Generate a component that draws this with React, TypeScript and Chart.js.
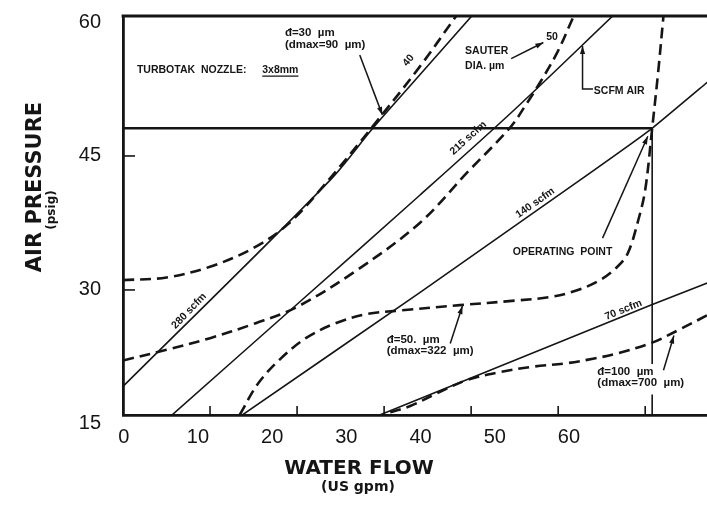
import React, { useEffect, useRef } from "react";
import { Chart, registerables } from "chart.js";

Chart.register(...registerables);

const INK = "#151515";

// ---- axis ticks ----
const xTickValues = [0, 10, 20, 30, 40, 50, 60];
const yTickValues = [15, 30, 45, 60];
const xInnerTicks = [10, 20, 30, 40, 50, 60];
const yInnerTicks = [30, 45];

// ---- constant air-flow lines (solid) ----
const scfm280X = [0, 23.8, 28.7, 33.3, 40.1];
const scfm280Y = [19.2, 42.3, 48.1, 53.2, 60.7];
const scfm215X = [5.4, 20, 34.1, 45, 56.3];
const scfm215Y = [15.8, 28.4, 40.6, 50.2, 60.7];
const scfm140X = [13.4, 34.1, 52.5, 60.8, 67.2];
const scfm140Y = [15.8, 29.7, 42.3, 48.1, 53.3];
const scfm70X = [29.5, 60.6, 67.2];
const scfm70Y = [16.0, 28.3, 30.8];

// ---- operating point (48 psig, ~60.8 gpm) ----
const opLineX = [0, 60.8];
const opLineY = [48.1, 48.1];
const opDropX = [60.8, 60.8, 60.8, 60.8, 60.8];
const opDropY = [48.1, 21.7, null, 18.3, 15.9];

// ---- droplet-size curves (dashed) ----
const sauter40X = [0, 5, 10, 15, 19, 23, 28.6, 34.1, 38.3];
const sauter40Y = [31.1, 31.4, 32.6, 34.7, 37.4, 41.6, 48.2, 55.0, 60.7];
const sauter50X = [0, 5, 10, 15, 20, 27, 34.1, 39.5, 44.5, 46.4, 47.9, 49.9, 51.8];
const sauter50Y = [22.1, 23.3, 24.6, 26.2, 28.1, 32.3, 37.5, 43.1, 48.2, 50.9, 53.2, 56.6, 60.7];
const mean50X = [13.4, 15.5, 18, 21, 24.5, 28, 31.8, 38.7, 45, 49, 52, 54.8, 56.8, 58, 59.2, 60, 60.8, 61.5, 62.1];
const mean50Y = [16, 19.5, 22.2, 24.6, 26.3, 27.3, 27.7, 28.3, 28.8, 29.2, 29.9, 31.1, 32.6, 34.1, 37.8, 41.2, 48.1, 54.5, 60.7];
const mean100X = [30.7, 33, 36, 39.5, 43.3, 47, 51, 54, 56.8, 60.8, 64, 67.2];
const mean100Y = [16.3, 17, 18.4, 19.9, 20.8, 21.4, 21.8, 22.3, 22.9, 24.1, 25.6, 27.2];

// ---- annotations (data coordinates) ----
const noteTexts = [
  "TURBOTAK  NOZZLE:", "3x8mm", "đ=30  µm", "(dmax=90  µm)", "40", "SAUTER", "DIA. µm", "50",
  "SCFM AIR", "215 scfm", "140 scfm", "280 scfm", "70 scfm", "OPERATING  POINT",
  "đ=50.  µm", "(dmax=322  µm)", "đ=100  µm", "(dmax=700  µm)",
];
const noteX = [1.6, 16.0, 18.6, 18.6, 32.8, 39.3, 39.3, 49.3, 54.1, 39.66, 47.36, 7.6, 57.5, 50.5, 30.3, 30.3, 54.5, 54.5];
const noteY = [54.6, 54.6, 58.8, 57.4, 55.7, 56.75, 55.1, 58.3, 52.3, 47.0, 39.74, 27.64, 27.76, 34.25, 24.4, 23.17, 20.87, 19.6];
const noteRot = [0, 0, 0, 0, -50, 0, 0, 0, 0, -42, -35, -46, -22, 0, 0, 0, 0, 0];
const noteAlign = ["left", "left", "left", "left", "center", "left", "left", "center", "left", "center", "center", "center", "center", "center", "left", "left", "left", "left"];
const noteSize = [10.5, 10.5, 11.5, 11.5, 10.5, 10.5, 10.5, 10.5, 10.5, 10.5, 10.5, 10.5, 10.5, 10.5, 11.5, 11.5, 11.5, 11.5];

const arrowPaths: number[][][] = [
  [[27.2, 56.3], [29.8, 49.6]],
  [[44.6, 55.9], [48.3, 57.7]],
  [[54.0, 52.5], [52.8, 52.5], [52.8, 57.3]],
  [[55.1, 35.8], [60.3, 47.2]],
  [[37.6, 24.0], [39.0, 28.2]],
  [[62.1, 21.0], [63.3, 24.9]],
];

const zip = (xs: number[], ys: (number | null)[]) => xs.map((x, i) => ({ x, y: ys[i] }));

const solid = (xs: number[], ys: (number | null)[], w = 1.6, tension = 0.3) => ({
  data: zip(xs, ys),
  showLine: true,
  spanGaps: false,
  borderColor: INK,
  borderWidth: w,
  pointRadius: 0,
  tension,
  fill: false,
});
const dashed = (xs: number[], ys: number[]) => ({
  data: zip(xs, ys),
  showLine: true,
  borderColor: INK,
  borderWidth: 2.6,
  borderDash: [11, 6],
  pointRadius: 0,
  tension: 0.35,
  fill: false,
});

const overlay = {
  id: "overlay",
  afterDraw(chart: any) {
    const { ctx, chartArea: ca, scales } = chart;
    const xs = scales.x;
    const ys = scales.y;
    const px = (v: number) => xs.getPixelForValue(v);
    const py = (v: number) => ys.getPixelForValue(v);
    ctx.save();
    ctx.strokeStyle = INK;
    ctx.fillStyle = INK;

    // top frame line
    ctx.lineWidth = 2.8;
    ctx.beginPath();
    ctx.moveTo(ca.left - 1.4, ca.top);
    ctx.lineTo(ca.right, ca.top);
    ctx.stroke();

    // inward tick marks
    ctx.lineWidth = 1.6;
    xInnerTicks.forEach((v) => {
      const x = px(v);
      ctx.beginPath();
      ctx.moveTo(x, ca.bottom);
      ctx.lineTo(x, ca.bottom - 9);
      ctx.stroke();
    });
    yInnerTicks.forEach((v) => {
      const y = py(v);
      ctx.beginPath();
      ctx.moveTo(ca.left, y);
      ctx.lineTo(ca.left + 12, y);
      ctx.stroke();
    });

    // arrows
    ctx.lineWidth = 1.5;
    arrowPaths.forEach((path) => {
      const pts = path.map(([a, b]) => [px(a), py(b)]);
      ctx.beginPath();
      pts.forEach(([x, y], i) => (i ? ctx.lineTo(x, y) : ctx.moveTo(x, y)));
      ctx.stroke();
      const [x1, y1] = pts[pts.length - 2];
      const [x2, y2] = pts[pts.length - 1];
      const ang = Math.atan2(y2 - y1, x2 - x1);
      ctx.beginPath();
      ctx.moveTo(x2, y2);
      ctx.lineTo(x2 - 8 * Math.cos(ang) + 2.6 * Math.sin(ang), y2 - 8 * Math.sin(ang) - 2.6 * Math.cos(ang));
      ctx.lineTo(x2 - 8 * Math.cos(ang) - 2.6 * Math.sin(ang), y2 - 8 * Math.sin(ang) + 2.6 * Math.cos(ang));
      ctx.closePath();
      ctx.fill();
    });

    // annotation texts
    ctx.textBaseline = "middle";
    noteTexts.forEach((t, i) => {
      ctx.save();
      ctx.font = `bold ${noteSize[i]}px 'Liberation Sans', Arial, sans-serif`;
      ctx.translate(px(noteX[i]), py(noteY[i]));
      ctx.rotate((noteRot[i] * Math.PI) / 180);
      ctx.textAlign = noteAlign[i] as CanvasTextAlign;
      ctx.fillText(t, 0, 0);
      if (t === "3x8mm") {
        const w = ctx.measureText(t).width;
        ctx.lineWidth = 1.3;
        ctx.beginPath();
        ctx.moveTo(0, 6);
        ctx.lineTo(w, 6);
        ctx.stroke();
      }
      ctx.restore();
    });

    // axis titles
    ctx.textAlign = "center";
    ctx.font = "bold 20px 'DejaVu Sans', sans-serif";
    ctx.fillText("WATER FLOW", 359, 469);
    ctx.font = "bold 14px 'DejaVu Sans', sans-serif";
    ctx.fillText("(US gpm)", 358, 487);

    ctx.save();
    ctx.translate(36, 187);
    ctx.rotate(-Math.PI / 2);
    ctx.font = "bold 21px 'DejaVu Sans', sans-serif";
    ctx.fillText("AIR PRESSURE", 0, 0);
    ctx.restore();
    ctx.save();
    ctx.translate(52, 210);
    ctx.rotate(-Math.PI / 2);
    ctx.font = "bold 12px 'DejaVu Sans', sans-serif";
    ctx.fillText("(psig)", 0, 0);
    ctx.restore();

    ctx.restore();
  },
};

export default function App() {
  const ref = useRef<HTMLCanvasElement>(null);
  useEffect(() => {
    const canvas = ref.current;
    if (!canvas) return;
    const tickFont = { family: "'Liberation Sans', Arial, sans-serif", size: 20 };
    const chart = new Chart(canvas, {
      type: "scatter",
      data: {
        datasets: [
          solid(scfm280X, scfm280Y),
          solid(scfm215X, scfm215Y),
          solid(scfm140X, scfm140Y, 1.6, 0.1),
          solid(scfm70X, scfm70Y, 1.6, 0),
          solid(opLineX, opLineY, 2.4, 0),
          solid(opDropX, opDropY, 1.6, 0),
          dashed(sauter40X, sauter40Y),
          dashed(sauter50X, sauter50Y),
          dashed(mean50X, mean50Y),
          dashed(mean100X, mean100Y),
        ] as any,
      },
      options: {
        animation: false,
        responsive: false,
        devicePixelRatio: 1,
        layout: { autoPadding: false, padding: { top: 16, left: 0, right: 0, bottom: 0 } },
        plugins: { legend: { display: false }, tooltip: { enabled: false } },
        scales: {
          x: { type: "linear", min: 0, max: 67.1, display: false },
          xl: {
            type: "linear",
            position: "bottom",
            min: -0.1,
            max: 78.6,
            grid: { display: false, drawTicks: false },
            border: { display: true, color: INK, width: 2.8 },
            ticks: { font: tickFont, color: INK, padding: 10, maxRotation: 0, autoSkip: false },
            afterBuildTicks: (s: any) => {
              s.ticks = xTickValues.map((v) => ({ value: v }));
            },
            afterFit: (s: any) => {
              s.height = 96;
              s.paddingLeft = 0;
              s.paddingRight = 0;
            },
          },
          y: {
            type: "linear",
            position: "left",
            min: 16.0,
            max: 60.67,
            grid: { display: false, drawTicks: false },
            border: { display: true, color: INK, width: 2.8 },
            ticks: { font: tickFont, color: INK, padding: 22, autoSkip: false },
            afterBuildTicks: (s: any) => {
              s.ticks = yTickValues.map((v) => ({ value: v }));
            },
            afterFit: (s: any) => {
              s.width = 123;
              s.paddingTop = 0;
              s.paddingBottom = 0;
            },
          },
        } as any,
      },
      plugins: [overlay],
    });
    return () => chart.destroy();
  }, []);
  return (
    <canvas
      ref={ref}
      width={707}
      height={511}
      style={{ position: "fixed", left: 0, top: 0, width: 707, height: 511, background: "#fff" }}
    />
  );
}
